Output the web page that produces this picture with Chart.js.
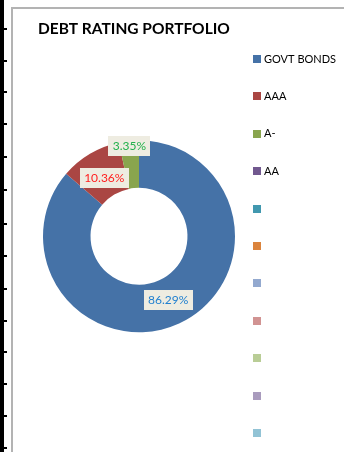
<!DOCTYPE html>
<html>
<head>
<meta charset="utf-8">
<script src="https://cdn.jsdelivr.net/npm/chart.js@4/dist/chart.umd.min.js"></script>
<style>
  html, body { margin: 0; padding: 0; background: #fff; overflow: hidden; }
  body { width: 344px; height: 452px; position: relative; }
  /* sheet ruler on the left */
  #ruler { position: absolute; left: 0; top: 0; width: 4px; height: 452px; background: #000; }
  .tick { position: absolute; left: 0; width: 7px; height: 2px; background: #000; }
  /* chart frame */
  #frame { position: absolute; left: 11px; top: 7px; width: 400px; height: 500px;
           border-left: 2px solid #b3b3b3; border-top: 2px solid #b3b3b3; }
  #box { position: absolute; left: 13px; top: 9px; width: 331px; height: 443px; }
</style>
</head>
<body>
<div id="ruler"></div>
<div id="frame"></div>
<div id="box"><canvas id="c"></canvas></div>
<script>
// ruler ticks
const tickYs = [29, 61, 92, 124, 157, 190, 224, 256, 289, 321, 352, 384, 416, 448];
tickYs.forEach(y => {
  const t = document.createElement('div');
  t.className = 'tick';
  t.style.top = (y - 1) + 'px';
  document.body.appendChild(t);
});

// portfolio split by rating
const categories = ['GOVT BONDS', 'AAA', 'A-', 'AA', '', '', '', '', '', '', ''];
const shares = [86.29, 10.36, 3.35, 0, 0, 0, 0, 0, 0, 0, 0];
const sliceColors = ['#4572a7', '#aa4643', '#89a54e', '#71588f', '#4198af', '#db843d',
                     '#93a9cf', '#d19392', '#b9cd96', '#a99bbd', '#92c3d5'];
const labelColors = ['#1f7fcf', '#ff2020', '#22b14c'];
const labelRadius = [70, 68, 91];

// value labels on the slices
const valueLabels = {
  id: 'valueLabels',
  afterDatasetsDraw(chart) {
    const ctx = chart.ctx;
    const meta = chart.getDatasetMeta(0);
    ctx.save();
    ctx.font = '12px Lato';
    ctx.textAlign = 'center';
    ctx.textBaseline = 'middle';
    meta.data.forEach((arc, i) => {
      const v = chart.data.datasets[0].data[i];
      if (!v) return;
      const p = arc.getProps(['x', 'y', 'startAngle', 'endAngle'], true);
      const mid = (p.startAngle + p.endAngle) / 2;
      const r = labelRadius[i] || 70;
      const x = p.x + Math.cos(mid) * r;
      const y = p.y + Math.sin(mid) * r;
      const txt = v.toFixed(2) + '%';
      const w = ctx.measureText(txt).width + 9;
      const h = 20;
      ctx.fillStyle = '#eeece1';
      ctx.fillRect(Math.round(x - w / 2), Math.round(y - h / 2), Math.round(w), h);
      ctx.fillStyle = labelColors[i] || '#000';
      ctx.fillText(txt, x, y + 0.5);
    });
    ctx.restore();
  }
};

// legend column on the right
const sideLegend = {
  id: 'sideLegend',
  afterDraw(chart) {
    const ctx = chart.ctx;
    const bg = chart.data.datasets[0].backgroundColor;
    ctx.save();
    ctx.font = '11px Lato';
    ctx.textBaseline = 'middle';
    chart.data.labels.forEach((lab, i) => {
      const cy = 50 + i * 37.4;
      ctx.fillStyle = bg[i];
      ctx.fillRect(240, Math.round(cy - 4), 8, 8);
      ctx.fillStyle = '#000';
      ctx.fillText(lab, 251, cy);
    });
    ctx.restore();
  }
};

new Chart(document.getElementById('c'), {
  type: 'doughnut',
  data: {
    labels: categories,
    datasets: [{
      data: shares,
      backgroundColor: sliceColors,
      borderWidth: 0
    }]
  },
  options: {
    responsive: true,
    maintainAspectRatio: false,
    animation: false,
    radius: 96,
    cutout: '50.5%',
    layout: { padding: { left: 25, right: 104, top: 0, bottom: 28 } },
    plugins: {
      legend: { display: false },
      tooltip: { enabled: false },
      title: {
        display: true,
        text: 'DEBT RATING PORTFOLIO',
        align: 'start',
        color: '#000',
        font: { family: 'Lato', size: 15.5, weight: 'bold' },
        padding: { top: 11, bottom: 10 }
      }
    }
  },
  plugins: [valueLabels, sideLegend]
});
</script>
</body>
</html>
